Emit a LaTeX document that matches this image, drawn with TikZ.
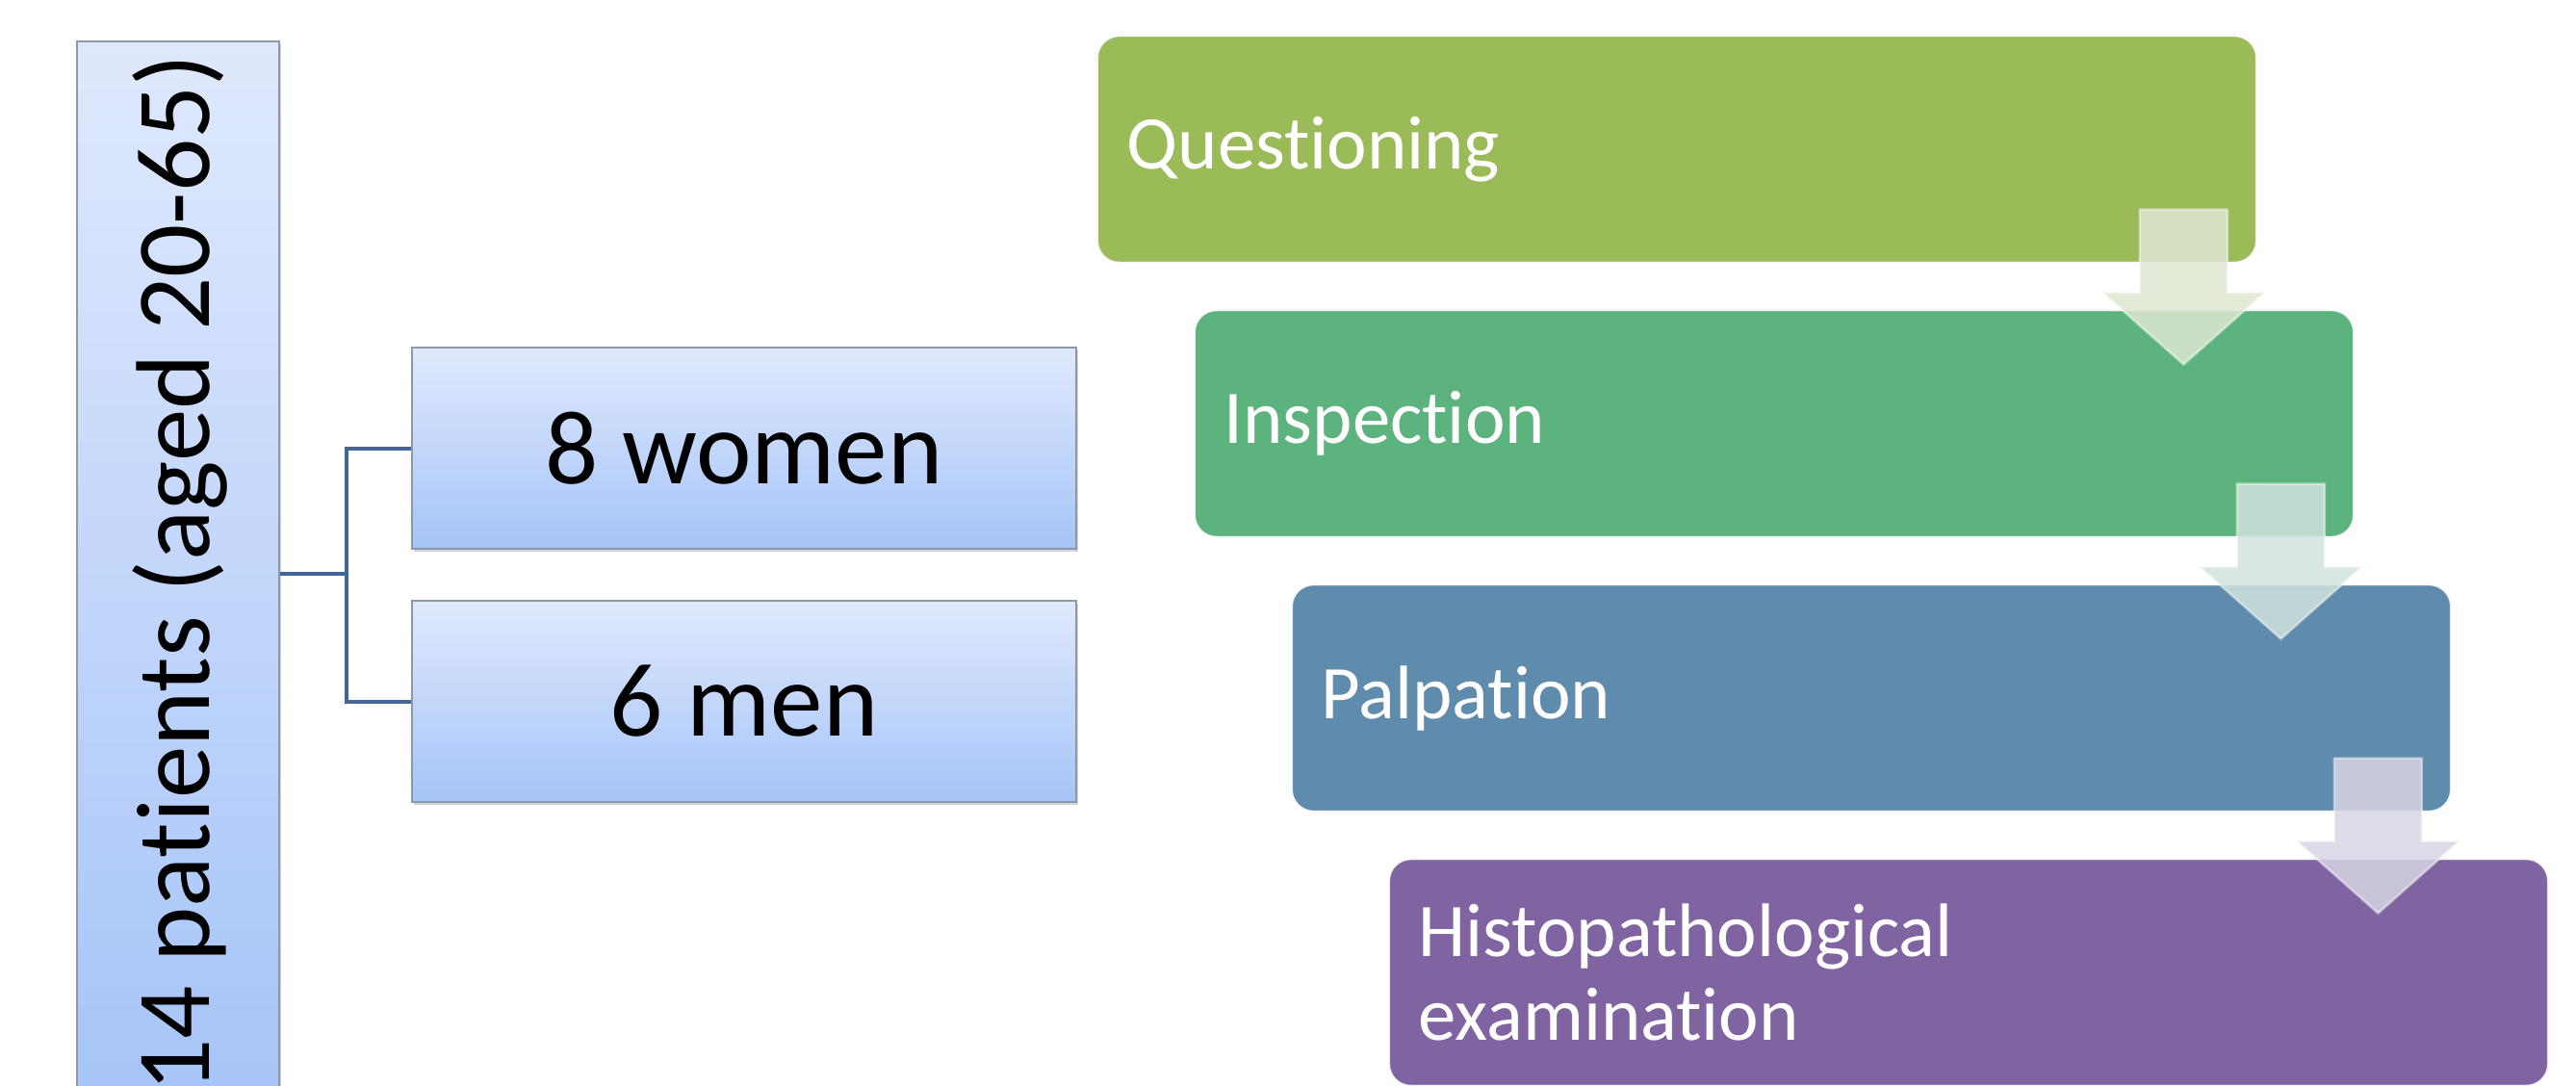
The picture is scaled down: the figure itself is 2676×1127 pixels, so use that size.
\documentclass[tikz,border=0pt]{standalone}
\usepackage{fontspec}
\setmainfont{Carlito}[Ligatures={NoCommon,NoContextual}]
\usetikzlibrary{shadows}
\definecolor{qgreen}{HTML}{9BBB59}
\definecolor{igreen}{HTML}{5DB37E}
\definecolor{pblue}{HTML}{5F8BAD}
\definecolor{hviolet}{HTML}{8064A2}
\definecolor{boxtop}{HTML}{DFE9FD}
\definecolor{boxbot}{HTML}{A6C4F8}
\definecolor{boxline}{HTML}{8F98A6}
\definecolor{linkblue}{HTML}{41679A}
\definecolor{arrA}{RGB}{222,231,209}
\definecolor{arrB}{RGB}{208,226,222}
\definecolor{arrC}{RGB}{216,213,228}
\begin{document}
\begin{tikzpicture}[x=0.01cm, y=-0.01cm,
	groupbox/.style={draw=boxline, line width=0.02cm, top color=boxtop, bottom color=boxbot,
		drop shadow={shadow xshift=0.6pt, shadow yshift=-0.9pt, opacity=0.35}, inner sep=0pt},
	stepbox/.style={fill=#1, draw=white, draw opacity=0.5, line width=0.01cm, rounded corners=0.22cm,
		minimum width=12.02cm, minimum height=2.34cm, text width=11.42cm, align=left,
		inner xsep=0.3cm, text=white, font=\fontsize{22.4}{24.7}\selectfont},
	downarrow/.style={fill=#1, fill opacity=0.85, draw=white, draw opacity=0.45, line width=0.025cm},
	link/.style={draw=linkblue, line width=0.04cm}]
		\useasboundingbox (0,0) rectangle (2676,1127);
		\clip (0,0) rectangle (2676,1127);
		% group of patients
		\node[groupbox, minimum width=2.1cm, minimum height=11.05cm] (pat) at (185,595.5) {};
		\node[rotate=90, anchor=base, font=\fontsize{31}{37}\selectfont] (patlbl) at (217,595.5) {14 patients (aged 20-65)};
		\node[groupbox, minimum width=6.9cm, minimum height=2.09cm, font=\fontsize{31}{37}\selectfont] (women) at (773,465.5) {8 women};
		\node[groupbox, minimum width=6.9cm, minimum height=2.09cm, font=\fontsize{31}{37}\selectfont] (men) at (773,728.5) {6 men};
		\draw[link] (pat.east)--++(69,0) coordinate (fork);
		\draw[link] (women.west) -| (fork) |- (men.west);
		% steps of the examination
		\node[stepbox=qgreen] (qst) at (1742,155) {Questioning};
		\node[stepbox=igreen] (insp) at (1843,440) {Inspection};
		\node[stepbox=pblue] (palp) at (1944,725) {Palpation};
		\node[stepbox=hviolet] (histo) at (2045,1010) {Histopathological\\examination};
		\foreach \up/\col in {qst/arrA, insp/arrB, palp/arrC}
			\path[downarrow=\col] ([shift={(-121,-55)}]\up.south east)--++(91,0)--++(0,86)--++(39,0)
				--++(-84.5,75)--++(-84.5,-75)--++(39,0)--cycle;
	\end{tikzpicture}
\end{document}
